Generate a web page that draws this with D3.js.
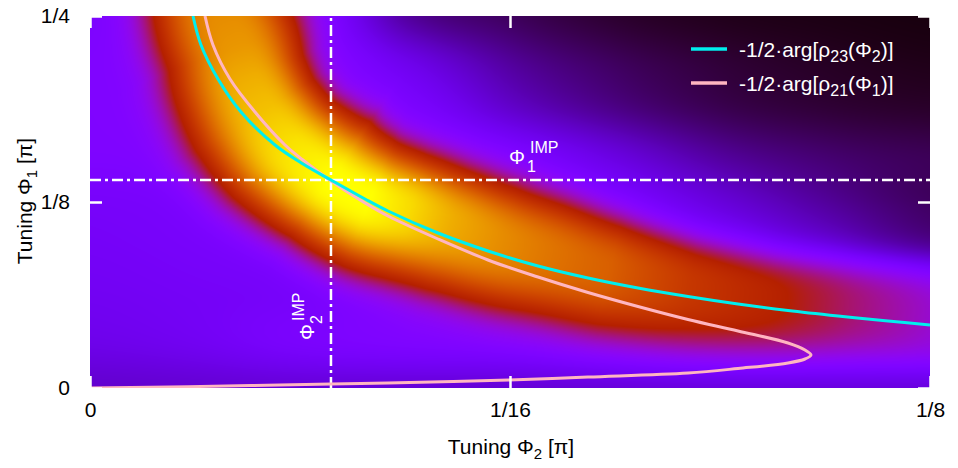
<!DOCTYPE html>
<html><head><meta charset="utf-8">
<script src="https://cdn.jsdelivr.net/npm/d3@7"></script>
<style>
body{margin:0;background:#fff}
svg{display:block}
text{font-family:"Liberation Sans",Arial,sans-serif}
</style>
</head><body>
<svg id="chart" width="958" height="468"></svg>
<script>
// ===== data (all angles in units of pi) =====
// smooth background level of the map (normalized 0..1), rows follow bgPhi1 (top to bottom), columns follow bgPhi2
const bgPhi2 = [0, 0.015625, 0.03125, 0.046875, 0.0625, 0.078125, 0.09375, 0.109375, 0.125];
const bgPhi1 = [0.25, 0.21875, 0.1875, 0.15625, 0.125, 0.09375, 0.0625, 0.03125, 0];
const bgLevel = [
  [0.24, 0.26, 0.28, 0.11, 0.06, 0.03, 0.017, 0.012, 0.009],
  [0.25, 0.26, 0.28, 0.19, 0.105, 0.06, 0.035, 0.022, 0.015],
  [0.25, 0.26, 0.27, 0.24, 0.15, 0.09, 0.052, 0.035, 0.027],
  [0.245, 0.25, 0.27, 0.29, 0.24, 0.17, 0.105, 0.072, 0.055],
  [0.22, 0.23, 0.25, 0.27, 0.27, 0.23, 0.165, 0.105, 0.062],
  [0.21, 0.22, 0.23, 0.25, 0.26, 0.25, 0.22, 0.16, 0.10],
  [0.20, 0.21, 0.22, 0.24, 0.25, 0.26, 0.26, 0.25, 0.24],
  [0.185, 0.20, 0.23, 0.245, 0.25, 0.27, 0.28, 0.28, 0.27],
  [0.15, 0.155, 0.16, 0.16, 0.16, 0.165, 0.17, 0.17, 0.17]
];
// bright ridge of the map: crest position, crest level, half widths (lower-left side / upper-right side, in units of pi of Phi1)
const ridgePhi2 = [0.019196, 0.020089, 0.022024, 0.023661, 0.026042, 0.029762, 0.035714, 0.041667, 0.047619, 0.053571,
  0.061012, 0.068452, 0.077381, 0.089286, 0.10119, 0.113095, 0.125, 0.133929];
const ridgePhi1 = [0.274194, 0.25, 0.229167, 0.208333, 0.1875, 0.163306, 0.139785, 0.126344, 0.118952, 0.110215,
  0.098118, 0.089382, 0.078629, 0.067876, 0.059812, 0.053763, 0.046371, 0.041667];
const ridgePeak = [0.80, 0.82, 0.84, 0.88, 0.91, 0.96, 1.0, 1.0, 0.95, 0.88, 0.82, 0.77, 0.72, 0.60, 0.52, 0.43, 0.35, 0.32];
const ridgeWidthIn = [0.0444, 0.0444, 0.0457, 0.047, 0.0484, 0.0457, 0.0403, 0.0417, 0.0423, 0.0423, 0.0403, 0.039, 0.037, 0.0349, 0.0316, 0.0282, 0.0242, 0.0242];
const ridgeWidthOut = [0.039, 0.039, 0.0376, 0.0349, 0.0336, 0.0363, 0.0403, 0.0363, 0.0336, 0.0336, 0.0349, 0.0336, 0.0316, 0.0282, 0.0269, 0.0276, 0.0296, 0.0296];

// -1/2·arg[rho23(Phi2)]
const cyanPhi2 = [0.015327,0.016518,0.019048,0.02247,0.02753,0.031696,0.035863,0.040923,0.044345,0.051786,0.059226,0.066667,0.074107,0.081548,0.088988,0.096429,0.103869,0.11131,0.11875,0.125];
const cyanPhi1 = [0.25,0.230511,0.207661,0.185484,0.163306,0.150538,0.139785,0.127016,0.118952,0.104167,0.09207,0.081989,0.073925,0.067204,0.061492,0.056452,0.052083,0.048387,0.045027,0.042339];
// -1/2·arg[rho21(Phi1)]
const pinkPhi2 = [0,0.014583,0.035863,0.044345,0.062351,0.074107,0.088988,0.096429,0.103869,0.106399,0.107292,0.106399,0.103869,0.096429,0.088988,0.081548,0.074107,0.066667,0.059226,0.051786,0.044345,0.040923,0.035863,0.031696,0.029018,0.024554,0.020833,0.018304,0.017113];
const pinkPhi1 = [0,0.000874,0.002688,0.00336,0.005376,0.007392,0.010081,0.013105,0.016801,0.019489,0.022177,0.025538,0.030242,0.038306,0.046035,0.054772,0.06418,0.074597,0.086022,0.100134,0.115591,0.124328,0.139113,0.153226,0.163306,0.185484,0.207661,0.230511,0.25];

const phi2Imp = 0.03586;
const phi1Imp = 0.1398;
const xTicks = [0, 1/16, 1/8];
const xTickLabels = ["0", "1/16", "1/8"];
const yTicks = [0, 1/8, 1/4];
const yTickLabels = ["0", "1/8", "1/4"];
const seriesNames = [
  [{t:"-1/2·arg[ρ"},{t:"23",sub:1},{t:"(Φ"},{t:"2",sub:1},{t:")]"}],
  [{t:"-1/2·arg[ρ"},{t:"21",sub:1},{t:"(Φ"},{t:"1",sub:1},{t:")]"}]
];
const seriesColors = ["#00eeee", "#ffb6c1"];

// ===== drawing =====
const svg = d3.select("#chart");
const x = d3.scaleLinear().domain([0, 0.125]).range([90, 930]);
const y = d3.scaleLinear().domain([0, 0.25]).range([388, 16]);
const FONT = "Liberation Sans, Arial, sans-serif";
const pxPerPhi1 = Math.abs(y(1) - y(0));

// --- background (bicubic over bg grid) ---
const nC = bgPhi2.length, nR = bgPhi1.length;
const gx = d3.scaleLinear().domain([bgPhi2[0], bgPhi2[nC-1]]).range([0, nC-1]);
const gy = d3.scaleLinear().domain([bgPhi1[0], bgPhi1[nR-1]]).range([0, nR-1]);
function bval(r, c){ r = Math.max(0, Math.min(nR-1, r)); c = Math.max(0, Math.min(nC-1, c)); return bgLevel[r][c]; }
function cr(p0,p1,p2,p3,t){ return 0.5*((2*p1)+(-p0+p2)*t+(2*p0-5*p1+4*p2-p3)*t*t+(-p0+3*p1-3*p2+p3)*t*t*t); }
function bgAt(ph2, ph1){
  const fx = gx(ph2), fy = gy(ph1);
  const c = Math.floor(fx), r = Math.floor(fy), tx = fx - c, ty = fy - r;
  const rv = [];
  for (let k = -1; k <= 2; k++) rv.push(cr(bval(r+k,c-1), bval(r+k,c), bval(r+k,c+1), bval(r+k,c+2), tx));
  return cr(rv[0], rv[1], rv[2], rv[3], ty);
}

// --- ridge centre line, densified (Catmull-Rom) in pixel space ---
const rn = ridgePhi2.length;
const rpts = ridgePhi2.map((p, i) => [x(p), y(ridgePhi1[i])]);
const dense = [];
const SUB = 12;
for (let i = 0; i < rn - 1; i++) {
  const p0 = rpts[Math.max(i-1,0)], p1 = rpts[i], p2 = rpts[i+1], p3 = rpts[Math.min(i+2, rn-1)];
  for (let k = 0; k < SUB; k++) {
    const t = k / SUB;
    dense.push({
      x: cr(p0[0],p1[0],p2[0],p3[0],t), y: cr(p0[1],p1[1],p2[1],p3[1],t),
      P: ridgePeak[i] + (ridgePeak[i+1]-ridgePeak[i])*t,
      wi: (ridgeWidthIn[i] + (ridgeWidthIn[i+1]-ridgeWidthIn[i])*t) * pxPerPhi1,
      wo: (ridgeWidthOut[i] + (ridgeWidthOut[i+1]-ridgeWidthOut[i])*t) * pxPerPhi1
    });
  }
}
dense.push({x: rpts[rn-1][0], y: rpts[rn-1][1], P: ridgePeak[rn-1], wi: ridgeWidthIn[rn-1]*pxPerPhi1, wo: ridgeWidthOut[rn-1]*pxPerPhi1});

function ridgeAt(px, py){
  let best = Infinity, bk = 0, bt = 0, bs = 1;
  for (let k = 0; k < dense.length - 1; k++) {
    const a = dense[k], b = dense[k+1];
    const abx = b.x - a.x, aby = b.y - a.y;
    const apx = px - a.x, apy = py - a.y;
    let t = (apx*abx + apy*aby) / (abx*abx + aby*aby);
    t = Math.max(0, Math.min(1, t));
    const dx = apx - t*abx, dy = apy - t*aby;
    const d2 = dx*dx + dy*dy;
    if (d2 < best) { best = d2; bk = k; bt = t; bs = (abx*apy - aby*apx) < 0 ? -1 : 1; }
  }
  const a = dense[bk], b = dense[bk+1];
  const P = a.P + (b.P - a.P)*bt;
  const w = bs < 0 ? a.wo + (b.wo - a.wo)*bt : a.wi + (b.wi - a.wi)*bt;
  return {P: P, f: Math.pow(2, -Math.pow(Math.sqrt(best)/w, 3))};
}

function pal(v){ v = Math.max(0, Math.min(1, v)); return [Math.sqrt(v), v*v*v, Math.max(0, Math.sin(2*Math.PI*v))]; }

const X0 = x.range()[0], X1 = x.range()[1], Y0 = y.range()[1], Y1 = y.range()[0];
const cw = Math.round(X1 - X0), ch = Math.round(Y1 - Y0);
const canvas = document.createElement("canvas");
canvas.width = cw; canvas.height = ch;
const ctx = canvas.getContext("2d");
const img = ctx.createImageData(cw, ch);
for (let j = 0; j < ch; j++) {
  const py = Y0 + j + 0.5, ph1 = y.invert(py);
  for (let i = 0; i < cw; i++) {
    const px = X0 + i + 0.5, ph2 = x.invert(px);
    const bg = bgAt(ph2, ph1);
    const rg = ridgeAt(px, py);
    const v = bg + Math.max(0, rg.P - bg) * rg.f;
    const col = pal(v);
    const o = (j*cw + i)*4;
    img.data[o] = Math.round(col[0]*255);
    img.data[o+1] = Math.round(col[1]*255);
    img.data[o+2] = Math.round(col[2]*255);
    img.data[o+3] = 255;
  }
}
ctx.putImageData(img, 0, 0);
svg.append("image").attr("x", X0).attr("y", Y0).attr("width", cw).attr("height", ch)
  .attr("preserveAspectRatio", "none").attr("href", canvas.toDataURL());

svg.append("clipPath").attr("id", "plotclip").append("rect")
  .attr("x", X0).attr("y", Y0).attr("width", cw).attr("height", ch);
const plot = svg.append("g").attr("clip-path", "url(#plotclip)");

// dash-dot IMP lines
const dash = "11,4,3,4";
plot.append("line").attr("x1", x(phi2Imp)).attr("x2", x(phi2Imp)).attr("y1", y(0)).attr("y2", y(0.25))
  .attr("stroke", "#fff").attr("stroke-width", 2.5).attr("stroke-dasharray", dash);
plot.append("line").attr("x1", x(0)).attr("x2", x(0.125)).attr("y1", y(phi1Imp)).attr("y2", y(phi1Imp))
  .attr("stroke", "#fff").attr("stroke-width", 2.5).attr("stroke-dasharray", dash);

// curves
const line = d3.line().x(d => x(d[0])).y(d => y(d[1])).curve(d3.curveCatmullRom.alpha(0.5));
plot.append("path").datum(d3.zip(pinkPhi2, pinkPhi1)).attr("d", line)
  .attr("fill", "none").attr("stroke", seriesColors[1]).attr("stroke-width", 3);
plot.append("path").datum(d3.zip(cyanPhi2, cyanPhi1)).attr("d", line)
  .attr("fill", "none").attr("stroke", seriesColors[0]).attr("stroke-width", 3);

// axes
function styleAxis(g){
  g.select(".domain").remove();
  g.selectAll(".tick line").attr("stroke", "#fff").attr("stroke-width", 2.5);
  g.selectAll(".tick text").attr("fill", "#000").attr("font-size", 21).attr("font-family", FONT);
}
svg.append("g").attr("transform", `translate(0,${y(0)})`)
  .call(d3.axisBottom(x).tickValues(xTicks).tickFormat((d,i) => xTickLabels[i]).tickSizeInner(-12).tickSizeOuter(0).tickPadding(14))
  .call(styleAxis);
svg.append("g").attr("transform", `translate(0,${y(0.25)})`)
  .call(d3.axisTop(x).tickValues(xTicks).tickFormat("").tickSizeInner(-12).tickSizeOuter(0))
  .call(styleAxis);
svg.append("g").attr("transform", `translate(${x(0)},0)`)
  .call(d3.axisLeft(y).tickValues(yTicks).tickFormat((d,i) => yTickLabels[i]).tickSizeInner(-12).tickSizeOuter(0).tickPadding(20))
  .call(styleAxis);
svg.append("g").attr("transform", `translate(${x(0.125)},0)`)
  .call(d3.axisRight(y).tickValues(yTicks).tickFormat("").tickSizeInner(-12).tickSizeOuter(0))
  .call(styleAxis);

// rich text helper
function rich(t, segs, size, small, shift){
  let cur = 0;
  segs.forEach(s => {
    const off = s.sub ? shift : (s.sup ? -shift : 0);
    t.append("tspan").attr("dy", off - cur).attr("font-size", (s.sub || s.sup) ? small : size).text(s.t);
    cur = off;
  });
}

// axis titles
rich(svg.append("text").attr("x", 511).attr("y", 454).attr("text-anchor", "middle").attr("fill", "#000"),
  [{t:"Tuning Φ"},{t:"2",sub:1},{t:" [π]"}], 21, 15, 5);
rich(svg.append("text").attr("transform", "translate(32,201) rotate(-90)").attr("text-anchor", "middle").attr("fill", "#000"),
  [{t:"Tuning Φ"},{t:"1",sub:1},{t:" [π]"}], 21, 15, 5);

// legend
seriesNames.forEach((segs, i) => {
  const ly = 49 + i*34;
  svg.append("line").attr("x1", 691).attr("x2", 727).attr("y1", ly).attr("y2", ly)
    .attr("stroke", seriesColors[i]).attr("stroke-width", 3.5);
  rich(svg.append("text").attr("x", 739).attr("y", ly + 8).attr("fill", "#fff"), segs, 21, 16, 5);
});

// IMP labels
const imp1 = svg.append("g").attr("fill", "#fff").attr("font-size", 20);
imp1.append("text").attr("x", 509).attr("y", 164).text("Φ");
imp1.append("text").attr("x", 527).attr("y", 172).attr("font-size", 16).text("1");
imp1.append("text").attr("x", 530).attr("y", 153).attr("font-size", 16).text("IMP");
const imp2 = svg.append("g").attr("fill", "#fff").attr("font-size", 20).attr("transform", "translate(314,340) rotate(-90)");
imp2.append("text").attr("x", 0).attr("y", 0).text("Φ");
imp2.append("text").attr("x", 16).attr("y", 8).attr("font-size", 16).text("2");
imp2.append("text").attr("x", 19).attr("y", -10).attr("font-size", 16).text("IMP");
</script>
</body></html>
